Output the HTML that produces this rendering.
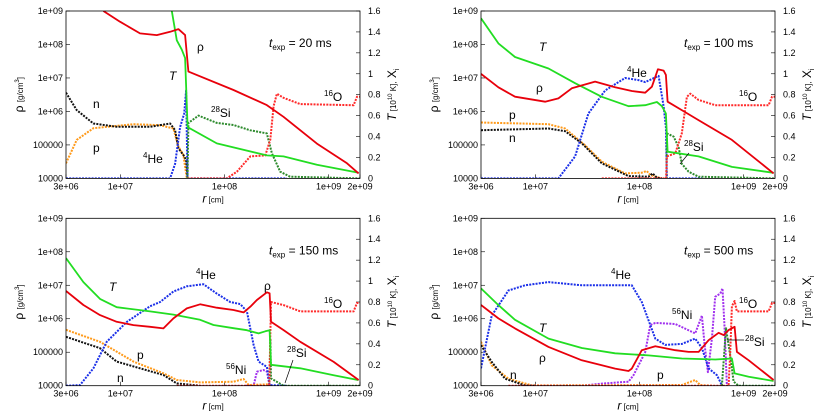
<!DOCTYPE html>
<html><head><meta charset="utf-8">
<style>
html,body{margin:0;padding:0;background:#fff;}
svg{display:block;font-family:"Liberation Sans",sans-serif;}
.tk{font-size:9px;fill:#000;}
.lb{font-size:12px;fill:#000;}
</style></head>
<body>
<svg id="chart" width="830" height="415" viewBox="0 0 830 415"></svg>
<script>
// x: log10 r [cm]; left-axis series: log10 rho; right-axis series: T [1e10 K] or mass fraction X
// ---- panel 1: t = 20 ms ----
const p1Rho = [[6.836,9.0],[6.996,8.68],[7.188,8.33],[7.349,8.28],[7.477,8.38],[7.557,8.46],[7.621,8.28],[7.653,7.19],[8.086,6.64],[8.406,6.19],[8.566,5.84],[8.887,5.04],[9.176,4.45],[9.288,4.15]];
const p1T = [[7.493,1.6],[7.541,1.32],[7.589,1.23],[7.621,1.15],[7.645,0.49],[7.926,0.335],[8.406,0.22],[8.566,0.21],[8.887,0.13],[9.288,0.054]];
const p1N = [[6.477,6.56],[6.580,6.04],[6.740,5.64],[6.964,5.54],[7.285,5.54],[7.477,5.64],[7.525,5.44],[7.557,4.90],[7.605,4.70],[7.631,4.55],[7.644,4.0]];
const p1P = [[6.477,4.45],[6.580,5.15],[6.740,5.50],[7.125,5.62],[7.381,5.59],[7.509,5.49],[7.557,4.95],[7.605,4.70],[7.637,4.0]];
const p1He = [[6.477,0],[7.477,0],[7.525,0.14],[7.573,0.49],[7.612,0.62],[7.631,0.84],[7.644,0],[8.6,0]];
const p1Si = [[7.644,0],[7.653,0.53],[7.750,0.60],[7.926,0.53],[8.086,0.51],[8.247,0.46],[8.406,0.43],[8.455,0.24],[8.535,0.064],[8.63,0.016],[9.301,0]];
const p1O = [[7.644,0],[8.022,0],[8.119,0.064],[8.247,0.21],[8.391,0.22],[8.439,0.37],[8.471,0.69],[8.503,0.81],[8.566,0.77],[8.727,0.71],[9.240,0.70],[9.272,0.78],[9.301,0.78]];
const p1Ni = [];
// ---- panel 2: t = 100 ms ----
const p2Rho = [[6.477,7.12],[6.644,6.72],[6.804,6.44],[7.093,6.29],[7.221,6.39],[7.349,6.69],[7.573,6.89],[7.765,6.72],[7.926,6.61],[8.054,6.56],[8.119,6.74],[8.176,7.26],[8.231,7.22],[8.253,7.09],[8.269,6.29],[8.406,6.04],[8.566,5.74],[8.887,5.15],[9.288,4.15]];
const p2T = [[6.477,1.53],[6.644,1.29],[6.804,1.16],[7.125,1.05],[7.381,0.91],[7.637,0.78],[7.894,0.69],[8.054,0.70],[8.167,0.73],[8.215,0.69],[8.253,0.62],[8.269,0.255],[8.566,0.21],[8.887,0.11],[9.288,0.054]];
const p2N = [[6.477,5.44],[7.125,5.49],[7.285,5.41],[7.445,5.05],[7.637,4.45],[7.894,4.07],[8.086,4.05],[8.125,4.15],[8.167,4.02],[8.215,4.0]];
const p2P = [[6.477,5.67],[7.125,5.62],[7.285,5.49],[7.477,4.99],[7.637,4.50],[7.861,4.15],[8.022,4.17],[8.070,4.22],[8.103,4.10],[8.215,4.0]];
const p2He = [[6.477,0],[7.221,0],[7.381,0.21],[7.509,0.62],[7.669,0.84],[7.861,0.96],[7.990,0.94],[8.054,0.92],[8.183,0.98],[8.231,0.69],[8.253,0.49],[8.263,0],[8.6,0]];
const p2Si = [[8.258,0],[8.263,0.43],[8.327,0.40],[8.375,0.30],[8.406,0.14],[8.471,0.064],[8.566,0.016],[9.301,0]];
const p2O = [[7.637,0],[8.255,0],[8.263,0.21],[8.343,0.24],[8.406,0.43],[8.455,0.78],[8.487,0.81],[8.566,0.75],[8.727,0.70],[9.240,0.70],[9.272,0.78],[9.301,0.78]];
const p2Ni = [];
// ---- panel 3: t = 150 ms ----
const p3Rho = [[6.477,6.83],[6.644,6.41],[6.804,6.11],[6.964,5.91],[7.125,5.81],[7.285,5.76],[7.413,5.71],[7.509,6.01],[7.637,6.31],[7.765,6.43],[7.926,6.33],[8.086,6.26],[8.183,6.19],[8.247,6.36],[8.311,6.56],[8.407,6.79],[8.433,6.76],[8.446,5.91],[8.567,5.66],[8.728,5.31],[9.048,4.71],[9.288,4.17]];
const p3T = [[6.477,1.22],[6.644,0.99],[6.804,0.83],[6.964,0.75],[7.285,0.71],[7.509,0.68],[7.765,0.63],[7.894,0.58],[8.086,0.55],[8.215,0.53],[8.327,0.50],[8.391,0.52],[8.433,0.53],[8.446,0.20],[8.728,0.166],[9.048,0.10],[9.288,0.054]];
const p3N = [[6.477,5.46],[6.804,5.12],[6.964,4.72],[7.413,4.32],[7.541,4.07],[7.765,4.0]];
const p3P = [[6.477,5.67],[6.804,5.31],[7.125,4.72],[7.413,4.37],[7.541,4.17],[7.765,4.10],[8.086,4.12],[8.183,4.20],[8.231,4.02],[8.407,4.04],[8.44,4.03]];
const p3He = [[6.477,0],[6.612,0.006],[6.740,0.166],[6.868,0.42],[7.061,0.61],[7.285,0.76],[7.381,0.80],[7.509,0.90],[7.637,0.95],[7.797,0.97],[7.926,0.88],[8.054,0.80],[8.151,0.78],[8.215,0.71],[8.279,0.39],[8.327,0.23],[8.407,0.18],[8.433,0.006],[8.6,0]];
const p3Si = [[8.43,0],[8.440,0.45],[8.446,0.07],[8.567,0.0],[9.301,0]];
const p3O = [[7.541,0],[8.43,0],[8.446,0.80],[8.567,0.77],[8.728,0.71],[9.240,0.71],[9.272,0.79],[9.301,0.79]];
const p3Ni = [[8.20,0],[8.279,0],[8.311,0.134],[8.375,0.15],[8.407,0.134],[8.433,0]];
// ---- panel 4: t = 500 ms ----
const p4Rho = [[6.477,6.41],[6.644,6.01],[6.804,5.71],[7.125,5.16],[7.445,4.76],[7.637,4.61],[7.765,4.51],[7.894,4.44],[7.926,4.51],[8.022,5.06],[8.151,5.18],[8.343,5.06],[8.471,5.01],[8.567,5.01],[8.663,5.36],[8.759,5.58],[8.807,5.51],[8.855,5.66],[8.913,5.76],[8.935,5.01],[9.048,4.76],[9.288,4.17]];
const p4T = [[6.477,0.93],[6.644,0.77],[6.804,0.63],[7.125,0.45],[7.445,0.36],[7.765,0.31],[8.086,0.29],[8.407,0.26],[8.728,0.25],[8.887,0.26],[8.913,0.118],[9.048,0.086],[9.288,0.045]];
const p4N = [[6.477,5.21],[6.580,4.71],[6.708,4.21],[6.900,4.01],[7.0,4.0]];
const p4P = [[6.477,5.31],[6.580,4.61],[6.740,4.21],[6.964,4.01],[8.407,4.02],[8.535,4.17],[8.583,4.02],[8.7,4.0]];
const p4He = [[6.477,0.166],[6.580,0.67],[6.740,0.91],[6.900,0.96],[7.125,0.99],[7.445,0.96],[7.765,0.96],[7.926,0.96],[8.022,0.80],[8.151,0.45],[8.247,0.39],[8.407,0.40],[8.535,0.45],[8.599,0.36],[8.663,0.166],[8.743,0.10],[8.775,0.038],[8.791,0]];
const p4Si = [[8.791,0],[8.830,0.55],[8.871,0.29],[8.903,0.04],[8.95,0],[9.301,0]];
const p4O = [[6.74,0],[8.855,0],[8.871,0.31],[8.887,0.76],[8.913,0.81],[8.935,0.71],[8.967,0.71],[9.240,0.71],[9.272,0.79],[9.301,0.79]];
const p4Ni = [[7.445,0],[7.637,0.02],[7.894,0.038],[7.942,0.10],[8.054,0.32],[8.103,0.58],[8.151,0.60],[8.343,0.59],[8.535,0.50],[8.599,0.67],[8.625,0.39],[8.657,0.13],[8.695,0.45],[8.727,0.85],[8.775,0.88],[8.797,0.93],[8.817,0.55],[8.839,0]];

const leftTicks = ["1e+09","1e+08","1e+07","1e+06","100000","10000"];
const rightTicks = ["1.6","1.4","1.2","1","0.8","0.6","0.4","0.2","0"];
const xTickVals = [3e6,1e7,1e8,1e9,2e9];
const xTickLabels = ["3e+06","1e+07","1e+08","1e+09","2e+09"];
const times = ["20","100","150","500"];

const NS="http://www.w3.org/2000/svg";
const svg=document.getElementById('chart');
function mk(tag,attrs,parent){const e=document.createElementNS(NS,tag);for(const k in attrs)e.setAttribute(k,attrs[k]);(parent||svg).appendChild(e);return e;}

const panels=[
 {x:66,y:11,series:[p1Rho,p1T,p1N,p1P,p1He,p1Si,p1O,p1Ni]},
 {x:481,y:11,series:[p2Rho,p2T,p2N,p2P,p2He,p2Si,p2O,p2Ni]},
 {x:66,y:218.3,series:[p3Rho,p3T,p3N,p3P,p3He,p3Si,p3O,p3Ni]},
 {x:481,y:218.3,series:[p4Rho,p4T,p4N,p4P,p4He,p4Si,p4O,p4Ni]}
];
const W=294,H=167.4,XMIN=Math.log10(3e6),XMAX=Math.log10(2e9);
const styles=[
 {name:'density',c:'#e8000b',axis:'L',dash:null,w:1.8},
 {name:'temperature',c:'#22dd22',axis:'R',dash:null,w:1.8},
 {name:'neutrons',c:'#111',axis:'L',dash:'2,1.2',w:2},
 {name:'protons',c:'#ff9a1a',axis:'L',dash:'2,1.2',w:2},
 {name:'helium4',c:'#1a2fe8',axis:'R',dash:'2,1.2',w:2},
 {name:'silicon28',c:'#2c8a2c',axis:'R',dash:'2,1.2',w:2},
 {name:'oxygen16',c:'#ff2a2a',axis:'R',dash:'2,1.2',w:2},
 {name:'nickel56',c:'#a030ee',axis:'R',dash:'2,1.2',w:2}
];
const order=[7,3,2,4,5,6,1,0];

panels.forEach((p,pi)=>{
 const g=mk('g',{});
 
 
 const xs=v=>p.x+(v-XMIN)/(XMAX-XMIN)*W;
 const yL=v=>p.y+(9-v)/5*H;
 const yR=v=>p.y+(1.6-v)/1.6*H;
 const cp=mk('clipPath',{id:'cp'+pi},g);
 mk('rect',{x:p.x,y:p.y,width:W,height:H},cp);
 // ticks
 leftTicks.forEach((t,i)=>{
  const y=p.y+i*H/5;
  const l=mk('line',{x1:p.x,x2:p.x+4,y1:y,y2:y,stroke:'#000','stroke-width':0.6},g);
  
  
  const tx=mk('text',{x:p.x-3,y:y+3,'text-anchor':'end',class:'tk'},g);tx.textContent=t;
  
  
 });
 rightTicks.forEach((t,i)=>{
  const y=p.y+i*H/8;
  mk('line',{x1:p.x+W-4,x2:p.x+W,y1:y,y2:y,stroke:'#000','stroke-width':0.6},g);
  const tx=mk('text',{x:p.x+W+8,y:y+3,class:'tk'},g);tx.textContent=t;
  
  
 });
 xTickVals.forEach((v,i)=>{
  const x=xs(Math.log10(v));
  mk('line',{x1:x,x2:x,y1:p.y+H,y2:p.y+H-4,stroke:'#000','stroke-width':0.6},g);
  const tx=mk('text',{x:x,y:p.y+H+11,'text-anchor':'middle',class:'tk'},g);tx.textContent=xTickLabels[i];
  
  
 });
 // series
 order.forEach(si=>{
  const d=p.series[si],s=styles[si];
  if(!d.length)return;
  const yf=s.axis==='L'?yL:yR;
  const pts=d.map(q=>xs(q[0]).toFixed(1)+','+yf(q[1]).toFixed(1)).join(' ');
  const a={points:pts,fill:'none',stroke:s.c,'stroke-width':s.w,'stroke-linejoin':'round','clip-path':'url(#cp'+pi+')'};
  if(s.dash)a['stroke-dasharray']=s.dash;
  const pl=mk('polyline',a,g);
  
  
 });
 const fr=mk('rect',{x:p.x,y:p.y,width:W,height:H,fill:'none',stroke:'#000','stroke-width':0.8},g);
 
 
 // axis titles
 const yt=mk('text',{transform:`translate(${p.x-43},${p.y+H/2}) rotate(-90)`,'text-anchor':'middle',class:'lb'},g);
 yt.innerHTML='ρ <tspan font-size="8">[g/cm</tspan><tspan font-size="6" dy="-4">3</tspan><tspan font-size="8" dy="4">]</tspan>';
 
 
 const rt=mk('text',{transform:`translate(${p.x+W+36},${p.y+H/2}) rotate(-90)`,'text-anchor':'middle',class:'lb'},g);
 rt.innerHTML='<tspan font-style="italic">T</tspan><tspan font-size="8"> [10</tspan><tspan font-size="6" dy="-4">10</tspan><tspan font-size="8" dy="4"> K],</tspan>  X<tspan font-size="7" dy="3">i</tspan>';
 
 
 const xt=mk('text',{x:p.x+W/2,y:p.y+H+24,'text-anchor':'middle',class:'lb'},g);
 xt.innerHTML='<tspan font-style="italic">r</tspan><tspan font-size="8"> [cm]</tspan>';
 
 
 const tt=mk('text',{x:p.x+203,y:p.y+36,class:'lb'},g);
 tt.innerHTML='<tspan font-style="italic">t</tspan><tspan font-size="8" dy="3">exp</tspan><tspan dy="-3"> = '+times[pi]+' ms</tspan>';
 
 
});

// annotations [x, y, html]
const labels=[
 [197,51,'ρ'],[169,80,'<tspan font-style="italic">T</tspan>'],[93,108,'n'],[93,152,'p'],[143,163,'<tspan font-size="8" dy="-5">4</tspan><tspan dy="5">He</tspan>'],[211,117,'<tspan font-size="8" dy="-5">28</tspan><tspan dy="5">Si</tspan>'],[324,101,'<tspan font-size="8" dy="-5">16</tspan><tspan dy="5">O</tspan>'],
 [539,51,'<tspan font-style="italic">T</tspan>'],[536,92,'ρ'],[627,77,'<tspan font-size="8" dy="-5">4</tspan><tspan dy="5">He</tspan>'],[739,101,'<tspan font-size="8" dy="-5">16</tspan><tspan dy="5">O</tspan>'],[509,119,'p'],[509,142,'n'],[684,151,'<tspan font-size="8" dy="-5">28</tspan><tspan dy="5">Si</tspan>'],
 [109,291,'<tspan font-style="italic">T</tspan>'],[196,279,'<tspan font-size="8" dy="-5">4</tspan><tspan dy="5">He</tspan>'],[264,290,'ρ'],[324,308,'<tspan font-size="8" dy="-5">16</tspan><tspan dy="5">O</tspan>'],[137,359,'p'],[117,382,'n'],[226,374,'<tspan font-size="8" dy="-5">56</tspan><tspan dy="5">Ni</tspan>'],[287,357,'<tspan font-size="8" dy="-5">28</tspan><tspan dy="5">Si</tspan>'],
 [611,279,'<tspan font-size="8" dy="-5">4</tspan><tspan dy="5">He</tspan>'],[672,319,'<tspan font-size="8" dy="-5">56</tspan><tspan dy="5">Ni</tspan>'],[739,308,'<tspan font-size="8" dy="-5">16</tspan><tspan dy="5">O</tspan>'],[539,332,'<tspan font-style="italic">T</tspan>'],[539,362,'ρ'],[510,379,'n'],[657,379,'p'],[745,346,'<tspan font-size="8" dy="-5">28</tspan><tspan dy="5">Si</tspan>']
];
labels.forEach(l=>{
 const t=mk('text',{x:l[0],y:l[1],class:'lb'});
 t.innerHTML=l[2];
 
 
});
const leaders=[[689,153,680,164],[293,360,285,383],[744,340,727,340]];
leaders.forEach(q=>{
 const l=mk('line',{x1:q[0],y1:q[1],x2:q[2],y2:q[3],stroke:'#000','stroke-width':0.7});
 
 
});
</script>
</body></html>
